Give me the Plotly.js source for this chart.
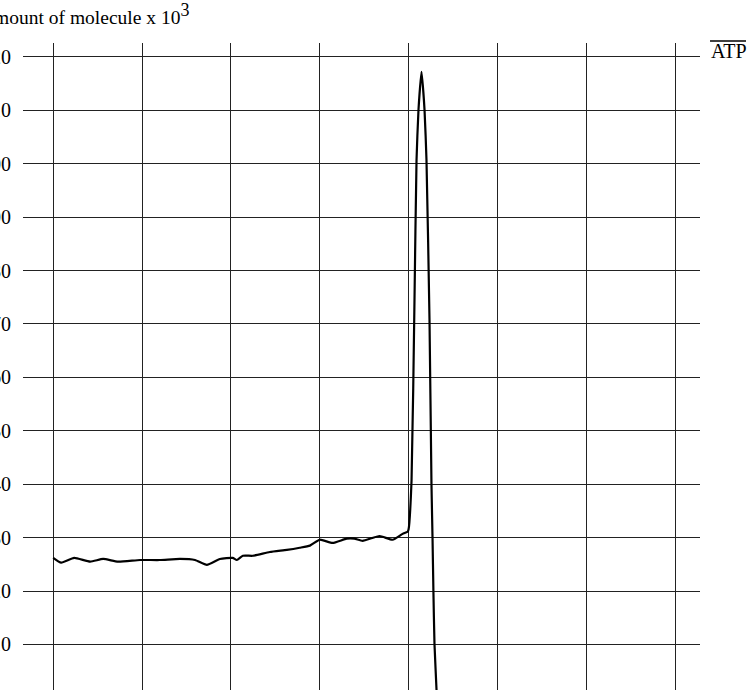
<!DOCTYPE html>
<html>
<head>
<meta charset="utf-8">
<script src="https://cdn.plot.ly/plotly-3.0.1.min.js"></script>
<style>html,body{margin:0;padding:0;background:#fff;overflow:hidden;}#chart{width:750px;height:694px;}</style>
</head>
<body>
<div id="chart"></div>
<script>
// Time axis (grid step = 10 units)
const time = [0, 0.9, 2.36, 4.16, 5.62, 7.3, 9.78, 12.0, 14.27, 15.96, 17.3, 18.76, 20.2, 20.67, 21.35, 22.47, 24.38, 26.3, 27.75, 28.9, 30.0, 31.46, 33.03, 33.9, 34.83, 36.74, 38.2, 39.33, 39.9, 40.0, 40.34, 40.67, 40.9, 41.12, 41.46, 41.8, 42.02, 42.36, 42.58, 42.7, 42.8, 42.92, 43.15, 43.3];
// ATP amount (x 10^3)
const atp = [26.2, 25.3, 26.2, 25.5, 26.0, 25.5, 25.8, 25.8, 26.0, 25.8, 24.9, 26.0, 26.2, 25.8, 26.6, 26.6, 27.3, 27.7, 28.1, 28.5, 29.6, 29.0, 29.8, 29.8, 29.4, 30.3, 29.6, 30.7, 31.1, 31.5, 40.8, 74.5, 100.7, 110.1, 117.2, 110.1, 100.7, 70.8, 40.1, 30.0, 20.0, 10.1, 1.5, -5];
const seriesName = "ATP";
const yTickVals = [10, 20, 30, 40, 50, 60, 70, 80, 90, 100, 110, 120];
const yTickText = ["10", "20", "30", "40", "50", "60", "70", "80", "90", "100", "110", "120"];
const xTickVals = [0, 10, 20, 30, 40, 50, 60, 70];
const titleText = "Amount of molecule x 10<sup><span style=\"font-size:18px\">3</span></sup>";

const FONT = "'Liberation Serif', 'Times New Roman', serif";
const GRID = "#222";

const trace = {
  x: time, y: atp, type: "scatter", mode: "lines", name: seriesName,
  line: {color: "#000", width: 2.2, shape: "spline", smoothing: 0.5}, showlegend: false, cliponaxis: true
};

const layout = {
  width: 750, height: 694,
  margin: {l: 23, r: 50, t: 43, b: 4, pad: 0},
  paper_bgcolor: "#fff", plot_bgcolor: "#fff",
  font: {family: FONT, size: 20, color: "#000"},
  showlegend: false,
  xaxis: {
    range: [-3.4, 72.81], tickvals: xTickVals, showticklabels: false,
    showgrid: true, gridcolor: GRID, gridwidth: 1, zeroline: false, showline: false,
    ticks: ""
  },
  yaxis: {
    range: [1.46, 122.62], tickvals: yTickVals, ticktext: yTickText,
    showgrid: true, gridcolor: GRID, gridwidth: 1, zeroline: false, showline: false,
    ticks: "", ticklabelstandoff: 11,
    tickfont: {family: FONT, size: 20, color: "#000"}
  },
  annotations: [
    {text: titleText, xref: "paper", yref: "paper", x: -0.0661, y: 1.0446,
     xanchor: "left", yanchor: "middle", showarrow: false,
     font: {family: FONT, size: 19.5, color: "#000"}},
    {text: seriesName, xref: "paper", yref: "paper", x: 1.0421, y: 0.9876,
     xanchor: "center", yanchor: "middle", showarrow: false,
     font: {family: FONT, size: 20, color: "#000"}}
  ],
  shapes: [
    {type: "line", xref: "paper", yref: "paper", x0: 1.0148, x1: 1.068, y0: 1.0031, y1: 1.0031,
     line: {color: "#000", width: 1.5}}
  ]
};

Plotly.newPlot("chart", [trace], layout, {staticPlot: true, displayModeBar: false});
</script>
</body>
</html>
